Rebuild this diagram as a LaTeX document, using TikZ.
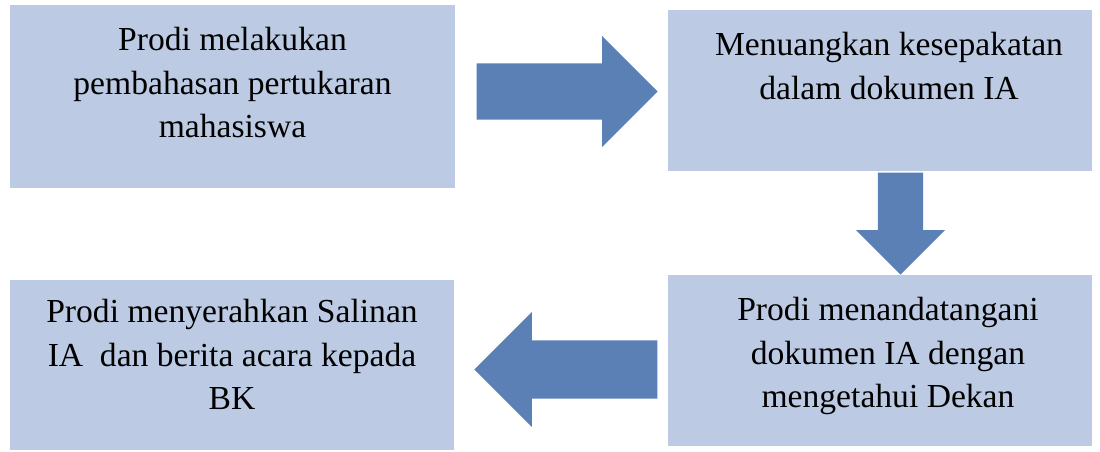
\documentclass[tikz,border=0pt]{standalone}
\usepackage{fontspec}
\setmainfont{Liberation Serif}
\usetikzlibrary{shapes.arrows,positioning}
\definecolor{boxblue}{RGB}{188,203,227}
\definecolor{arrowblue}{RGB}{90,128,182}
\begin{document}
\begin{tikzpicture}[x=1pt, y=-1pt,
	stepbox/.style={fill=boxblue, inner sep=0, minimum width=#1},
	steptext/.style={inner sep=0, align=center, anchor=north,
	  font=\fontsize{33.6}{43.5}\selectfont},
	blockarrow/.style={single arrow, fill=arrowblue, anchor=tip,
	  single arrow head extend=#1}]
	\useasboundingbox (0, 0) rectangle (1100, 452);
	% the four steps
	\node [stepbox=445, minimum height=183] (b1) at (232.5, 96.5) {};
	\node [stepbox=424, minimum height=161] (b2) at (880, 90.5) {};
	\node [stepbox=424, minimum height=171] (b3) at (880, 360.5) {};
	\node [stepbox=444, minimum height=170] (b4) at (232, 365) {};
	\node [steptext, below=22.5pt of b1.north] (t1)
	  {Prodi melakukan\\pembahasan pertukaran\\mahasiswa};
	\node [steptext, below=22.5pt of b2.north, xshift=9pt] (t2)
	  {Menuangkan kesepakatan\\dalam dokumen IA};
	\node [steptext, below=22.5pt of b3.north, xshift=8pt] (t3)
	  {Prodi menandatangani\\dokumen IA dengan\\mengetahui Dekan};
	\node [steptext, below=19.5pt of b4.north] (t4)
	  {Prodi menyerahkan Salinan\\IA\ \ dan berita acara kepada\\BK};
	% arrows between them
	\node [blockarrow=27.5, inner xsep=0, inner ysep=28,
	  minimum height=181] (a1) at (658, 91.5) {};
	\node [blockarrow=22, inner xsep=22.5, inner ysep=0,
	  minimum height=102, shape border rotate=270] (a2) at (900.5, 275) {};
	\node [blockarrow=28.5, inner xsep=0, inner ysep=29,
	  minimum height=183, shape border rotate=180] (a3) at (474, 369.5) {};
\end{tikzpicture}
\end{document}
